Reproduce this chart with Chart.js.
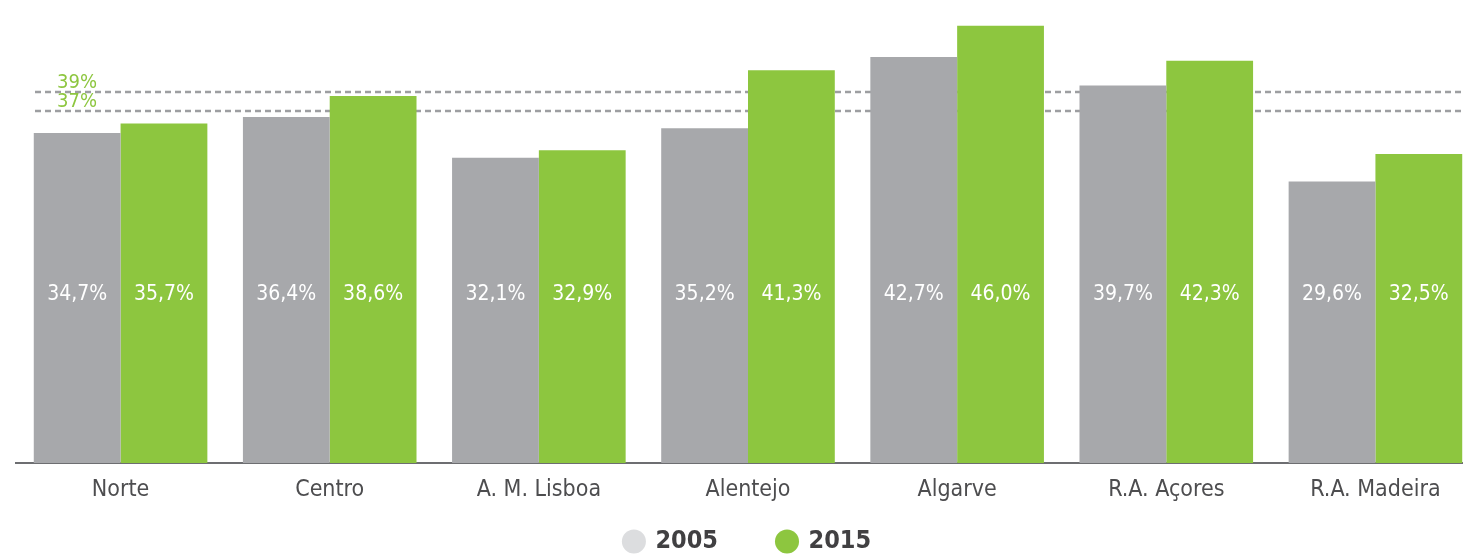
<!DOCTYPE html>
<html>
<head>
<meta charset="utf-8">
<script src="https://cdn.jsdelivr.net/npm/chart.js@4.4.1/dist/chart.umd.min.js"></script>
<style>
  html, body { margin: 0; padding: 0; background: #fff; overflow: hidden; }
  #wrap { width: 1463px; height: 554px; overflow: hidden; }
  canvas { display: block; }
</style>
</head>
<body>
<div id="wrap"><canvas id="chart" width="1480" height="564"></canvas></div>
<script>
const regions = ["Norte", "Centro", "A. M. Lisboa", "Alentejo", "Algarve", "R.A. Açores", "R.A. Madeira"];
const values2005 = [34.7, 36.4, 32.1, 35.2, 42.7, 39.7, 29.6];
const values2015 = [35.7, 38.6, 32.9, 41.3, 46.0, 42.3, 32.5];
const seriesNames = ["2005", "2015"];
const refLines = [39, 37];

const FONT = '"Liberation Sans Narrow", "DejaVu Sans Condensed", "Roboto", sans-serif';
const GRAY = "#a7a8ab";
const GREEN = "#8dc63f";

function pct(v) {
    return v.toFixed(1).replace(".", ",") + "%";
}

// dashed reference lines, drawn behind the bars
const refLinePlugin = {
    id: "refLines",
    beforeDatasetsDraw(chart) {
        const ctx = chart.ctx;
        const y = chart.scales.y;
        ctx.save();
        refLines.forEach(v => {
            const py = Math.round(y.getPixelForValue(v));
            ctx.strokeStyle = "#9d9ea1";
            ctx.lineWidth = 2.5;
            ctx.setLineDash([6, 4]);
            ctx.beginPath();
            ctx.moveTo(35, py);
            ctx.lineTo(chart.chartArea.right, py);
            ctx.stroke();
            ctx.fillStyle = GREEN;
            ctx.font = "20px " + FONT;
            ctx.textAlign = "left";
            ctx.textBaseline = "alphabetic";
            ctx.fillText(v + "%", 57, py - 4);
        });
        ctx.restore();
    }
};

// value labels inside the bars
const valueLabelPlugin = {
    id: "valueLabels",
    afterDatasetsDraw(chart) {
        const ctx = chart.ctx;
        const py = chart.scales.y.getPixelForValue(17.7);
        ctx.save();
        ctx.fillStyle = "#ffffff";
        ctx.font = "21px " + FONT;
        ctx.textAlign = "center";
        ctx.textBaseline = "middle";
        chart.data.datasets.forEach((ds, i) => {
            chart.getDatasetMeta(i).data.forEach((bar, j) => {
                ctx.fillText(pct(ds.data[j]), bar.x, py);
            });
        });
        ctx.restore();
    }
};

// the x axis box is squeezed so the legend sits close; widen its clip so labels still show
const axisClipPlugin = {
    id: "axisClip",
    afterLayout(chart) {
        const x = chart.scales.x;
        x.bottom = x.top + 50;
    }
};

new Chart(document.getElementById("chart"), {
    type: "bar",
    data: {
        labels: regions,
        datasets: [
            { label: seriesNames[0], data: values2005, backgroundColor: GRAY },
            { label: seriesNames[1], data: values2015, backgroundColor: GREEN }
        ]
    },
    options: {
        responsive: false,
        animation: false,
        layout: { padding: { left: 16, right: 0, top: 0, bottom: 0 } },
        datasets: {
            bar: { categoryPercentage: 0.83, barPercentage: 1.0 }
        },
        scales: {
            x: {
                grid: { display: false },
                border: { display: true, color: "#6d6e71", width: 2 },
                ticks: {
                    color: "#4d4d4f",
                    font: { family: FONT, size: 23 },
                    padding: 5,
                    maxRotation: 0,
                    autoSkip: false
                },
                afterFit(scale) { scale.height = 6; }
            },
            y: {
                display: false,
                min: 0,
                max: 48.7
            }
        },
        plugins: {
            tooltip: { enabled: false },
            legend: {
                position: "bottom",
                labels: {
                    usePointStyle: true,
                    pointStyle: "circle",
                    boxWidth: 18,
                    boxHeight: 17,
                    padding: 60,
                    color: "#414042",
                    font: { family: FONT, size: 25, weight: "bold" },
                    generateLabels(chart) {
                        const items = Chart.defaults.plugins.legend.labels.generateLabels(chart);
                        items.forEach((it, i) => {
                            it.fillStyle = i === 0 ? "#dcdddf" : GREEN;
                            it.strokeStyle = it.fillStyle;
                            it.lineWidth = 0;
                        });
                        return items;
                    }
                }
            }
        }
    },
    plugins: [refLinePlugin, valueLabelPlugin, axisClipPlugin]
});
</script>
</body>
</html>
